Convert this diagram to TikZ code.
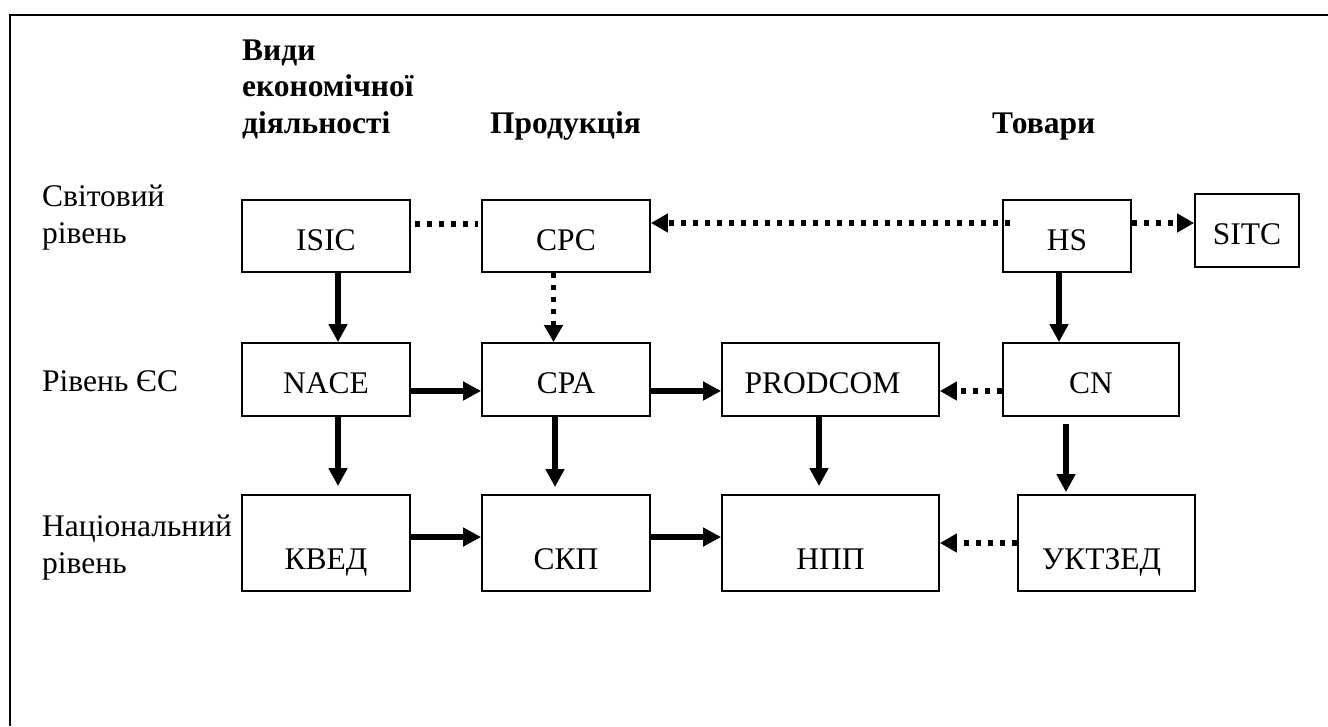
\documentclass[tikz,border=0pt]{standalone}
\usepackage{fontspec}
\setmainfont{Liberation Serif}
\usetikzlibrary{arrows.meta}
\newcommand{\fsz}{\fontsize{31.5}{36.5}\selectfont}
\begin{document}
\begin{tikzpicture}[x=1pt,y=-1pt,
  box/.style={draw, line width=1.8pt, inner sep=0pt, font=\fsz, anchor=center, text height=28pt, text depth=0pt},
  tallbox/.style={box, text height=52pt},
  lbl/.style={inner sep=0pt, font=\fsz, align=left, anchor=base west},
  hdr/.style={inner sep=0pt, font=\fsz\bfseries, align=left, anchor=base west},
  sol/.style={line width=6.5pt, -{Triangle[length=18pt,width=18pt]}},
  dot/.style={line width=5.5pt, dash pattern=on 5.5pt off 6.5pt},
  dotarr/.style={dot, -{Triangle[length=17pt,width=18pt]}}]
\fill[white] (0,0) rectangle (1328,726);
\useasboundingbox (0,0) rectangle (1328,726);
\draw[line width=2pt] (1328,14.7) -- (10,14.7) -- (10,726);

% headers (base anchor = last line baseline)
\node[hdr] (h1) at (242,133) {Види\\економічної\\діяльності};
\node[hdr] (h2) at (490,133) {Продукція};
\node[hdr] (h3) at (992,133) {Товари};

% row labels
\node[lbl] (l1) at (42,243) {Світовий\\рівень};
\node[lbl] (l2) at (42,391) {Рівень ЄС};
\node[lbl] (l3) at (42,573) {Національний\\рівень};

% boxes
\node[box, minimum width=168pt, minimum height=72pt] (isic) at (326,236) {ISIC};
\node[box, minimum width=168pt, minimum height=72pt] (cpc) at (566,236) {CPC};
\node[box, minimum width=128pt, minimum height=72pt] (hs) at (1067,236) {HS};
\node[box, minimum width=104pt, minimum height=73pt] (sitc) at (1247,230.5) {SITC};

\node[box, minimum width=168pt, minimum height=73pt] (nace) at (326,379.5) {NACE};
\node[box, minimum width=168pt, minimum height=73pt] (cpa) at (566,379.5) {CPA};
\node[box, minimum width=217pt, minimum height=73pt] (prodcom) at (830.5,379.5) {PRODCOM\hspace*{16pt}};
\node[box, minimum width=176pt, minimum height=73pt] (cn) at (1091,379.5) {CN};

\node[tallbox, minimum width=168pt, minimum height=96pt] (kved) at (326,543) {КВЕД};
\node[tallbox, minimum width=168pt, minimum height=96pt] (skp) at (566,543) {СКП};
\node[tallbox, minimum width=217pt, minimum height=96pt] (npp) at (830.5,543) {НПП};
\node[tallbox, minimum width=177pt, minimum height=96pt] (uktzed) at (1106.5,543) {УКТЗЕД\hspace*{10pt}};

% solid arrows
\draw[sol] ([xshift=12pt]isic.south) -- ([xshift=12pt]nace.north);
\draw[sol] ([xshift=12pt]nace.south) -- ([xshift=12pt,yshift=8pt]kved.north);
\draw[sol] ([xshift=-11pt]cpa.south) -- ([xshift=-11pt,yshift=7pt]skp.north);
\draw[sol] ([xshift=-11.5pt]prodcom.south) -- ([xshift=-11.5pt,yshift=8pt]npp.north);
\draw[sol] ([xshift=-8pt]hs.south) coordinate (c5) -- (c5 |- cn.north);
\draw[sol] ([xshift=-25pt,yshift=-7pt]cn.south) coordinate (c6) -- ([yshift=2pt]c6 |- uktzed.north);
\draw[sol] ([yshift=-11.5pt]nace.east) -- ([yshift=-11.5pt]cpa.west);
\draw[sol] ([yshift=-11.5pt]cpa.east) -- ([yshift=-11.5pt]prodcom.west);
\draw[sol] ([yshift=6pt]kved.east) -- ([yshift=6pt]skp.west);
\draw[sol] ([yshift=6pt]skp.east) -- ([yshift=6pt]npp.west);

% dotted connectors
\draw[dot, shorten <=4pt, shorten >=3pt] ([yshift=12pt]isic.east) -- ([yshift=12pt]cpc.west);
\draw[dotarr] ([xshift=8pt,yshift=13pt]hs.west) -- ([yshift=13pt]cpc.east);
\draw[dotarr] ([yshift=13pt]hs.east) coordinate (c13) -- (c13 -| sitc.west);
\draw[dotarr] ([xshift=-12.5pt]cpc.south) -- ([xshift=-12.5pt]cpa.north);
\draw[dotarr] ([yshift=-11.5pt]cn.west) -- ([yshift=-11.5pt]prodcom.east);
\draw[dotarr] (uktzed.west) -- (uktzed.west -| npp.east);
\end{tikzpicture}
\end{document}
